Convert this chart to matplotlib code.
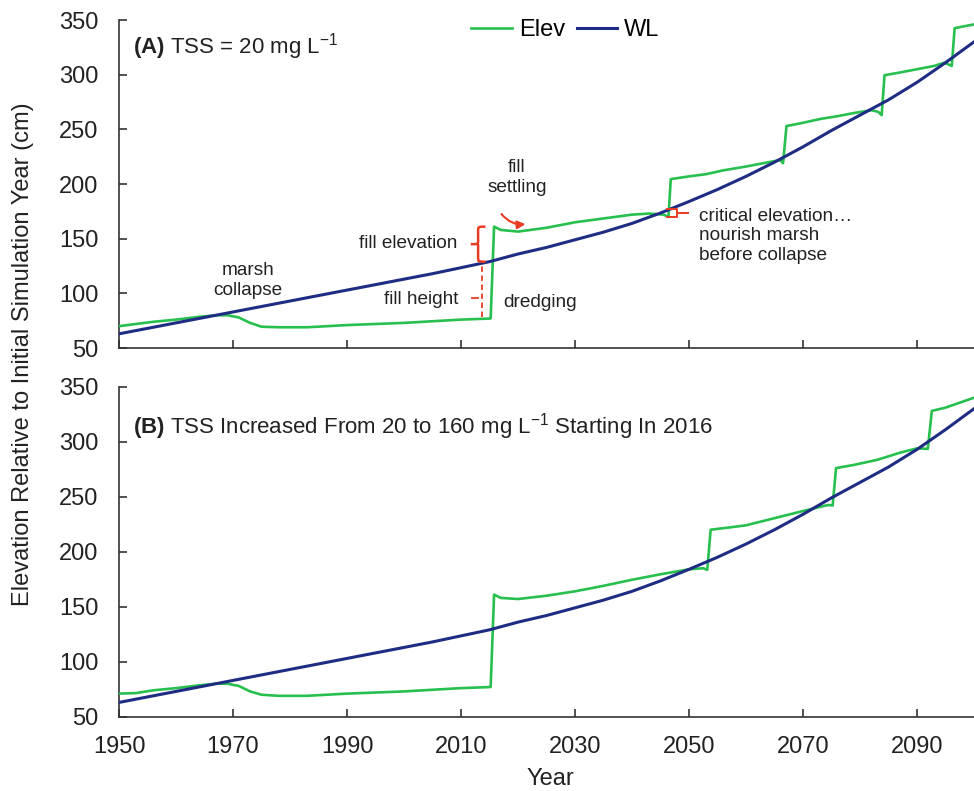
import matplotlib
matplotlib.use("Agg")
import matplotlib.pyplot as plt
from matplotlib.path import Path
from matplotlib.patches import PathPatch

plt.rcParams["font.family"] = ["Liberation Sans", "DejaVu Sans"]
plt.rcParams["mathtext.fontset"] = "custom"
plt.rcParams["mathtext.rm"] = "Liberation Sans"
plt.rcParams["mathtext.bf"] = "Liberation Sans:bold"

# water level (same in both panels)
years_wl = [1950, 1955, 1960, 1965, 1970, 1975, 1980, 1985, 1990, 1995, 2000, 2005,
            2010, 2015, 2020, 2025, 2030, 2035, 2040, 2045, 2050, 2055, 2060, 2065,
            2070, 2075, 2080, 2085, 2090, 2095, 2100]
wl = [63, 68, 73, 78, 83, 88, 93, 98, 103, 108, 113, 118,
      123.5, 129, 136, 142, 149, 156, 164, 173.5, 184, 195, 207, 220,
      234, 249, 263, 277, 293, 311, 330]

# marsh elevation, panel A (TSS = 20)
years_a = [1950, 1953, 1956, 1960, 1964, 1967, 1969, 1971, 1973, 1975,
           1978, 1983, 1990, 2000, 2010, 2015.2, 2015.8, 2017, 2020, 2025,
           2030, 2035, 2040, 2043, 2045.5, 2046.4, 2046.8, 2050, 2053, 2056,
           2060, 2063, 2066, 2066.5, 2067.1, 2070, 2073, 2076, 2079, 2082,
           2083.2, 2083.8, 2084.3, 2087, 2090, 2093, 2094.8, 2096.1, 2096.6, 2098,
           2100]
elev_a = [70, 72, 74, 76, 78.5, 80, 80, 78, 73, 69.5,
          69, 69, 71, 73, 76, 77, 161, 158, 156.5, 160,
          165, 168.5, 172, 173, 172, 170, 204.5, 207, 209, 212.5,
          216, 219, 222, 219, 253, 256, 259.5, 262, 265, 267.5,
          266, 263, 299.5, 302, 305, 308, 311, 308, 342.5, 344,
          346]

# marsh elevation, panel B (TSS raised to 160 from 2016)
years_b = [1950, 1953, 1956, 1960, 1964, 1967, 1969, 1971, 1973, 1975,
           1978, 1983, 1990, 2000, 2010, 2015.2, 2015.8, 2017, 2020, 2025,
           2030, 2035, 2040, 2045, 2050, 2052.5, 2053.2, 2053.8, 2057, 2060,
           2065, 2070, 2074.4, 2075.2, 2075.8, 2079, 2083, 2087, 2090, 2091.9,
           2092.6, 2095, 2100]
elev_b = [71, 71.5, 74, 76, 78.5, 80, 80, 78, 73, 70,
          69, 69, 71, 73, 76, 77, 161, 158, 157, 160,
          164, 169, 174.5, 179.5, 184, 185, 183.5, 220, 222, 224,
          230.5, 237, 242.5, 242, 276, 279, 283.5, 290, 294, 293.5,
          328, 331, 340]

x_ticks = [1950, 1970, 1990, 2010, 2030, 2050, 2070, 2090]
y_ticks = [50, 100, 150, 200, 250, 300, 350]

green = "#27c04f"
blue = "#1f2c84"
red = "#ea3b24"
spine_col = "#333333"
txt_col = "#222222"

fig = plt.figure(figsize=(9.74, 7.91), dpi=100)
ax_a = fig.add_axes([0.1222, 0.560, 0.8778, 0.4147])
ax_b = fig.add_axes([0.1222, 0.0939, 0.8778, 0.4172])

for ax, yrs, elev in [(ax_a, years_a, elev_a), (ax_b, years_b, elev_b)]:
    ax.plot(yrs, elev, color=green, lw=1.9, label="Elev", zorder=3)
    ax.plot(years_wl, wl, color=blue, lw=2.2, label="WL", zorder=4)
    ax.set_xlim(1950, 2100)
    ax.set_ylim(50, 350)
    ax.set_xticks(x_ticks)
    ax.set_yticks(y_ticks)
    for s in ["top", "right"]:
        ax.spines[s].set_visible(False)
    for s in ["left", "bottom"]:
        ax.spines[s].set_color(spine_col)
        ax.spines[s].set_linewidth(1.2)
    ax.tick_params(direction="in", length=6, width=1.2, color=spine_col,
                   labelsize=17, labelcolor=txt_col)
    ax.tick_params(axis="y", pad=15)
    ax.tick_params(axis="x", pad=14)

ax_a.tick_params(axis="x", labelbottom=False)

ax_a.legend(loc="center", bbox_to_anchor=(0.522, 0.97), ncol=2, frameon=False,
            fontsize=17, handlelength=1.7, handletextpad=0.3, columnspacing=0.5)

ax_a.text(0.016, 0.918, r"$\mathbf{(A)}$ TSS = 20 mg L$^{\mathrm{-1}}$",
          transform=ax_a.transAxes, fontsize=16, va="center", ha="left", color=txt_col)
ax_b.text(0.016, 0.878,
          r"$\mathbf{(B)}$ TSS Increased From 20 to 160 mg L$^{\mathrm{-1}}$ Starting In 2016",
          transform=ax_b.transAxes, fontsize=16, va="center", ha="left", color=txt_col)

# annotations, panel A
fs = 13.7
ax_a.text(1972.6, 112, "marsh\ncollapse", ha="center", va="center", fontsize=fs, color=txt_col)
ax_a.text(2009.3, 146, "fill elevation", ha="right", va="center", fontsize=fs, color=txt_col)
ax_a.text(2009.5, 94.5, "fill height", ha="right", va="center", fontsize=fs, color=txt_col)
ax_a.text(2017.4, 92, "dredging", ha="left", va="center", fontsize=fs, color=txt_col)
ax_a.text(2019.8, 206, "fill\nsettling", ha="center", va="center", fontsize=fs, color=txt_col)
ax_a.text(2051.8, 152.5, "critical elevation\u2026\nnourish marsh\nbefore collapse",
          ha="left", va="center", fontsize=fs, color=txt_col)

# curly brace for fill elevation
xt, xm, xe = 2011.7, 2013.0, 2014.3
y0, y1 = 129, 161
ym = (y0 + y1) / 2
verts = [(xe, y1), (xm, y1), (xm, y1), (xm, y1 - 4),
         (xm, ym + 3),
         (xm, ym), (xm, ym), (xt, ym),
         (xm, ym), (xm, ym), (xm, ym - 3),
         (xm, y0 + 4),
         (xm, y0), (xm, y0), (xe, y0)]
codes = [Path.MOVETO, Path.CURVE4, Path.CURVE4, Path.CURVE4,
         Path.LINETO,
         Path.CURVE4, Path.CURVE4, Path.CURVE4,
         Path.MOVETO, Path.CURVE4, Path.CURVE4,
         Path.LINETO,
         Path.CURVE4, Path.CURVE4, Path.CURVE4]
ax_a.add_patch(PathPatch(Path(verts, codes), fill=False, edgecolor=red, lw=1.8, zorder=5))

# dashed fill height marker
ax_a.plot([2013.7, 2013.7], [78.5, 127.5], color=red, lw=1.3, ls=(0, (3, 2)), zorder=2)
ax_a.plot([2012.0, 2013.0], [95.5, 95.5], color=red, lw=1.3, zorder=2)

# small bracket for critical elevation
ax_a.plot([2046.2, 2047.9, 2047.9, 2046.2], [177, 177, 169.8, 169.8], color=red, lw=1.4, zorder=5)
ax_a.plot([2047.9, 2049.9], [173.4, 173.4], color=red, lw=1.4, zorder=5)

# curved arrow for fill settling
ax_a.annotate("", xy=(2021.8, 163.5), xytext=(2016.8, 174.5),
              arrowprops=dict(arrowstyle="-|>", color=red, lw=1.5,
                              connectionstyle="arc3,rad=0.3", mutation_scale=12))

fig.text(0.024, 0.5525, "Elevation Relative to Initial Simulation Year (cm)",
         rotation=90, ha="center", va="center", fontsize=17, color=txt_col)
fig.text(0.565, 0.015, "Year", ha="center", va="center", fontsize=17, color=txt_col)

fig.savefig("out.png", dpi=100)
